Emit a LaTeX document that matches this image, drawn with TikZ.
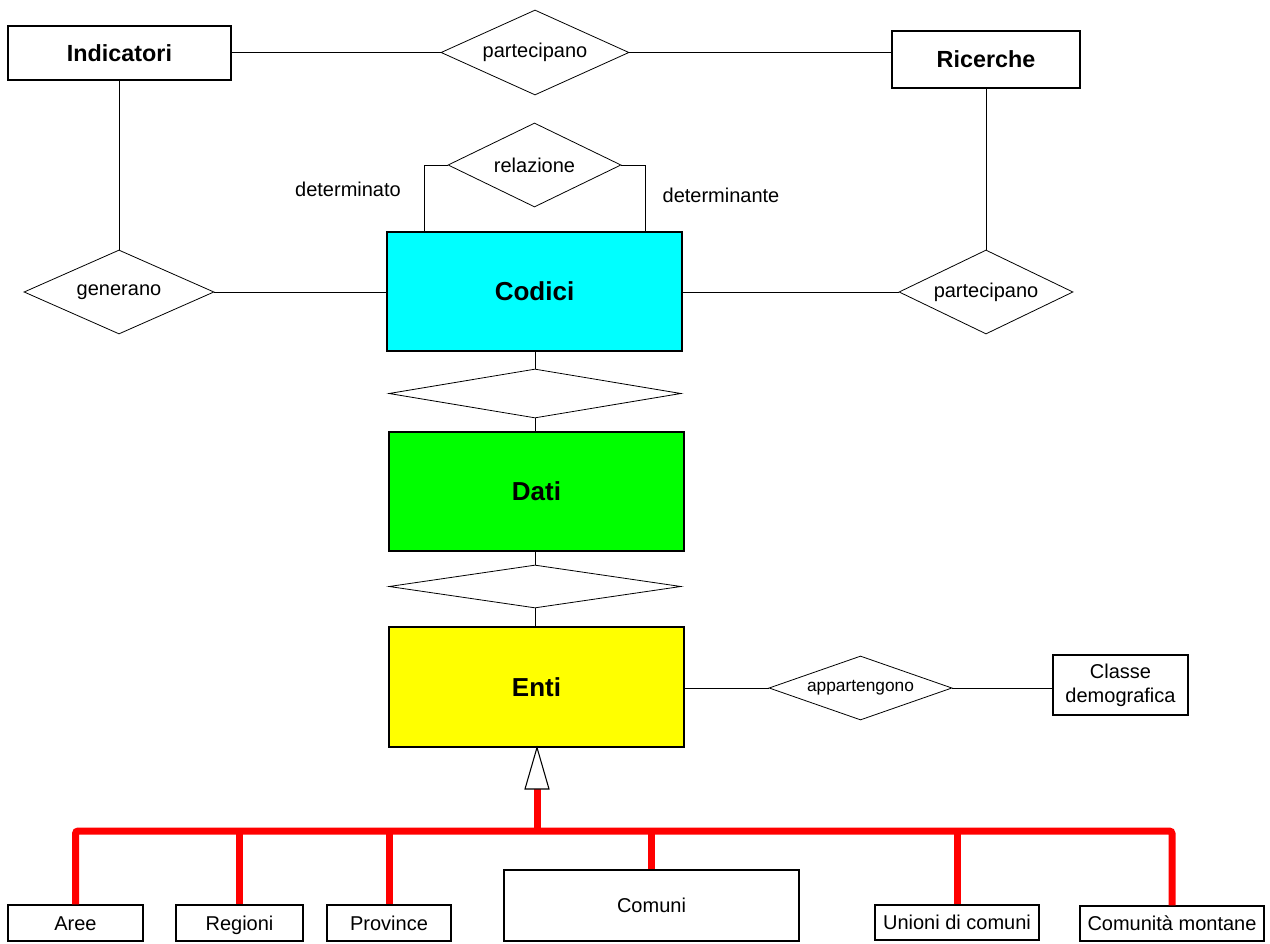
\documentclass[tikz,border=0pt]{standalone}
\usepackage{fontspec}
\setmainfont{Liberation Sans}
\usetikzlibrary{shapes.geometric,calc}
\definecolor{cyanbox}{RGB}{0,255,255}
\definecolor{greenbox}{RGB}{0,255,0}
\definecolor{yellowbox}{RGB}{255,255,0}
\definecolor{redbus}{RGB}{255,0,0}
\begin{document}
\begin{tikzpicture}[x=0.75pt,y=-0.75pt,
  ent/.style={draw=black,line width=0.8pt,rectangle,inner sep=0pt,font=\fontsize{17.5}{20}\selectfont\bfseries},
  bigent/.style={ent,font=\fontsize{19.5}{22}\selectfont\bfseries},
  sub/.style={draw=black,line width=0.8pt,rectangle,inner sep=0pt,font=\fontsize{15}{18}\selectfont,align=center},
  subone/.style={sub,text height=12pt,text depth=1.5pt},
  rel/.style={draw=black,line width=0.6pt,diamond,inner sep=0pt,fill=white,font=\fontsize{15}{18}\selectfont},
  conn/.style={draw=black,line width=0.6pt},
  redline/.style={draw=redbus,line width=5.25pt},
  lbl/.style={inner sep=0pt,font=\fontsize{15}{18}\selectfont}
]
\path[use as bounding box,fill=white] (0,0) rectangle (1270,944);

% entities
\node[ent,minimum width=167.25pt,minimum height=40.5pt] (ind) at (119.5,53) {Indicatori};
\node[ent,minimum width=141pt,minimum height=42.75pt] (ric) at (986,59.5) {Ricerche};
\node[bigent,fill=cyanbox,minimum width=221.25pt,minimum height=89.25pt] (cod) at (534.5,291.5) {Codici};
\node[bigent,fill=greenbox,minimum width=221.25pt,minimum height=89.25pt] (dati) at (536.5,491.5) {Dati};
\node[bigent,fill=yellowbox,minimum width=221.25pt,minimum height=90pt] (enti) at (536.5,687) {Enti};
\node[sub,minimum width=101.25pt,minimum height=45pt] (cls) at (1120.5,685) {Classe\\demografica};

% sub entities
\node[subone,minimum width=101.25pt,minimum height=27pt] (aree) at (75.5,923) {Aree};
\node[subone,minimum width=95.25pt,minimum height=27pt] (reg) at (239.5,923) {Regioni};
\node[subone,minimum width=93pt,minimum height=27pt] (prov) at (389,923) {Province};
\node[subone,minimum width=221.25pt,minimum height=53.25pt] (comuni) at (651.5,905.5) {Comuni};
\node[subone,minimum width=123pt,minimum height=26.25pt] (uni) at (957,922.5) {Unioni di comuni};
\node[subone,minimum width=138pt,minimum height=26.25pt] (cm) at (1172,923.5) {Comunità montane};

% relationships
\node[rel,aspect=2.2,minimum width=141pt,minimum height=63.75pt] (pt) at (535,52.5) {partecipano};
\node[rel,aspect=2.06,minimum width=129.75pt,minimum height=63pt] (rl) at (534.5,165) {relazione};
\node[rel,aspect=2.26,minimum width=142.5pt,minimum height=63pt] (gen) at (119,292) {generano};
\node[rel,aspect=2.07,minimum width=130.5pt,minimum height=63pt] (pr) at (986,292) {partecipano};
\node[rel,aspect=5,minimum width=219pt,minimum height=36.75pt] (d1) at (535,393.5) {};
\node[rel,aspect=5,minimum width=219pt,minimum height=32.25pt] (d2) at (535,586.5) {};
\node[rel,aspect=2.86,minimum width=137.25pt,minimum height=48pt,font=\fontsize{13}{15}\selectfont] (app) at (860.5,688) {appartengono};

% role labels
\node[lbl] (ldet) at (348,189) {determinato};
\node[lbl] (ldnt) at (721,195) {determinante};

% connectors
\draw[conn] (ind.east |- pt.west) -- (pt.west);
\draw[conn] (pt.east) -- (pt.east -| ric.west);
\draw[conn] (gen.north |- ind.south) -- (gen.north);
\draw[conn] (gen.east) -- (gen.east -| cod.west);
\draw[conn] (pr.north |- ric.south) -- (pr.north);
\draw[conn] (pr.west -| cod.east) -- (pr.west);
\coordinate (rl1) at (424,232);
\coordinate (rl2) at (645,232);
\draw[conn] (rl.west) -| (rl1);
\draw[conn] (rl.east) -| (rl2);
\draw[conn] (cod.south -| d1.north) -- (d1.north);
\draw[conn] (d1.south) -- (d1.south |- dati.north);
\draw[conn] (dati.south -| d2.north) -- (d2.north);
\draw[conn] (d2.south) -- (d2.south |- enti.north);
\draw[conn] (app.west -| enti.east) -- (app.west);
\draw[conn] (app.east) -- (app.east -| cls.west);

% generalization
\coordinate (tb) at (537,789);
\coordinate (bus) at (537,831);
\draw[redline] (tb) -- (bus);
\draw[redline,rounded corners=2pt] (aree.north) |- (cm.north |- bus) -- (cm.north);
\foreach \n in {reg,prov,comuni,uni}{
  \draw[redline] (\n.north) -- (\n.north |- bus);
}
\draw[draw=black,line width=0.8pt,fill=white,line join=miter] (enti.south -| tb) -- ($(tb)+(-12,0)$) -- ($(tb)+(12,0)$) -- cycle;
\end{tikzpicture}
\end{document}
